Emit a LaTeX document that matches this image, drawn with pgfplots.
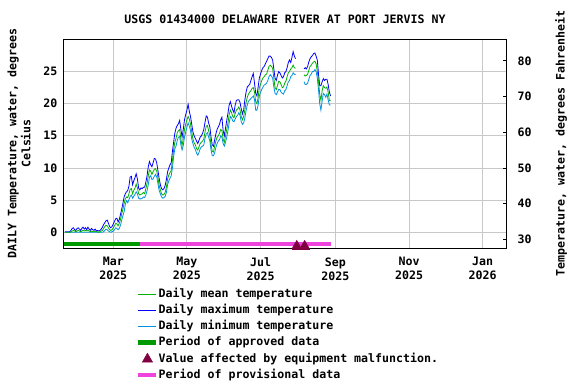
\documentclass[border=0pt]{standalone}
\usepackage{fontspec}
\setmainfont{DejaVu Sans Mono}
\usepackage{pgfplots}
\usepackage{pgfplotstable}
\pgfplotsset{compat=1.18}
\definecolor{cmean}{HTML}{00B000}
\definecolor{cmax}{HTML}{0000FF}
\definecolor{cmin}{HTML}{0090E0}
\definecolor{capp}{HTML}{009900}
\definecolor{cmal}{HTML}{800040}
\definecolor{cprov}{HTML}{EE44DD}
\definecolor{cgrid}{HTML}{C8C8C8}
\pgfplotstableread{
day mean max min
19 0.0 0.1 0.0
20 0.0 0.1 0.0
21 0.0 0.1 0.0
22 0.0 0.1 0.0
23 0.0 0.1 0.0
24 0.1 0.3 0.0
25 0.2 0.6 0.0
26 0.3 0.7 0.0
27 0.2 0.4 0.0
28 0.1 0.3 0.0
29 0.2 0.6 0.0
30 0.3 0.7 0.0
31 0.2 0.5 0.0
32 0.1 0.3 0.0
33 0.2 0.6 0.0
34 0.3 0.8 0.0
35 0.2 0.5 0.0
36 0.3 0.7 0.0
37 0.2 0.4 0.0
38 0.3 0.8 0.0
39 0.2 0.5 0.0
40 0.1 0.3 0.0
41 0.2 0.6 0.0
42 0.1 0.4 0.0
43 0.1 0.3 0.0
44 0.2 0.5 0.0
45 0.1 0.2 0.0
46 0.1 0.3 0.0
47 0.0 0.2 0.0
48 0.1 0.3 0.0
49 0.2 0.5 0.0
50 0.3 0.8 0.0
51 0.6 1.2 0.1
52 0.9 1.5 0.3
53 1.1 1.8 0.5
54 1.0 1.9 0.4
55 0.7 1.4 0.2
56 0.4 0.9 0.1
57 0.3 0.7 0.0
58 0.4 0.9 0.1
59 0.7 1.3 0.2
60 1.0 1.7 0.4
61 1.4 2.1 0.7
62 1.3 2.2 0.6
63 1.0 1.6 0.4
64 1.4 2.0 0.6
65 2.0 2.8 1.1
66 2.9 3.6 1.9
67 3.6 4.5 2.6
68 4.5 5.5 3.2
69 5.2 6.0 4.4
70 5.5 6.3 4.9
71 5.4 6.5 4.6
72 6.0 7.2 5.1
73 6.7 8.6 5.6
74 6.8 8.7 5.8
75 6.0 7.4 5.3
76 6.5 8.0 5.6
77 6.9 8.5 5.9
78 7.5 9.1 6.3
79 6.9 8.3 6.0
80 6.0 6.9 5.3
81 5.8 6.6 5.2
82 5.9 6.9 5.2
83 6.0 6.8 5.3
84 6.2 7.0 5.5
85 6.0 7.0 5.4
86 6.8 7.8 5.8
87 7.6 8.8 6.5
88 8.8 10.2 7.4
89 9.7 11.0 8.6
90 9.5 10.5 8.8
91 9.0 10.2 8.2
92 9.4 10.8 8.3
93 9.8 11.5 8.7
94 9.9 11.4 9.0
95 9.5 10.8 8.6
96 8.5 9.6 7.6
97 7.3 8.4 6.5
98 6.6 7.4 6.0
99 6.0 6.8 5.5
100 5.8 6.6 5.3
101 5.9 6.8 5.4
102 6.2 7.3 5.6
103 7.0 8.2 6.2
104 8.3 9.4 7.4
105 8.9 10.0 8.0
106 9.3 10.5 8.4
107 9.6 10.8 8.8
108 11.2 12.6 10.0
109 12.8 14.0 11.8
110 14.0 15.4 13.0
111 14.6 16.2 13.4
112 15.5 16.6 14.3
113 15.8 16.9 14.8
114 16.0 17.4 14.9
115 14.5 16.0 13.6
116 13.5 14.8 12.8
117 14.6 16.0 13.5
118 16.0 17.5 14.8
119 16.8 18.3 15.6
120 17.5 19.0 16.4
121 18.0 19.9 17.0
122 17.6 18.8 16.5
123 16.8 18.0 15.8
124 15.6 16.8 14.5
125 14.5 15.6 13.8
126 13.9 15.0 13.2
127 13.6 14.6 12.9
128 13.0 14.2 12.3
129 12.8 13.8 12.0
130 13.3 14.3 12.4
131 13.8 14.8 13.0
132 14.0 15.0 13.3
133 14.2 15.4 13.4
134 14.5 16.0 13.6
135 15.6 17.1 14.6
136 16.5 18.1 15.3
137 16.6 17.9 15.5
138 15.8 17.0 14.8
139 15.0 16.4 14.2
140 13.6 14.8 12.8
141 12.6 13.6 11.9
142 12.5 13.4 11.9
143 13.4 14.4 12.4
144 14.2 15.3 13.2
145 14.8 16.0 13.8
146 15.0 16.4 14.2
147 15.4 16.8 14.4
148 16.0 17.5 15.0
149 15.8 17.9 14.8
150 14.5 15.8 13.8
151 14.0 15.0 13.4
152 15.0 16.2 14.0
153 16.0 17.4 14.8
154 17.0 18.5 15.8
155 18.3 19.8 17.0
156 19.0 20.3 18.0
157 18.6 19.6 17.8
158 18.0 19.0 17.3
159 17.8 18.6 17.2
160 18.5 19.8 17.6
161 19.0 20.5 18.0
162 19.2 20.6 18.2
163 19.5 20.6 18.6
164 19.0 20.2 18.2
165 18.0 19.2 17.2
166 17.5 18.4 16.8
167 18.0 19.0 17.0
168 19.0 20.6 17.8
169 20.2 21.8 18.9
170 21.0 22.6 19.8
171 21.5 22.8 20.4
172 21.8 23.0 20.6
173 22.0 23.6 20.8
174 22.4 24.2 21.0
175 22.5 24.7 21.2
176 21.8 23.2 20.6
177 20.3 21.6 19.0
178 20.0 21.2 19.0
179 21.0 22.6 19.8
180 22.5 24.0 21.2
181 23.0 24.6 21.8
182 23.6 25.2 22.2
183 24.0 25.6 22.6
184 24.2 25.8 22.9
185 24.5 26.2 23.0
186 24.6 26.6 23.2
187 25.2 27.0 23.6
188 25.8 27.4 24.2
189 26.0 27.4 24.5
190 25.8 27.2 24.3
191 25.5 26.8 24.0
192 24.0 25.4 22.6
193 22.5 24.0 21.6
194 22.2 23.6 21.4
195 22.8 24.4 21.8
196 23.5 25.0 22.2
197 23.4 24.8 22.2
198 23.0 24.4 21.8
199 22.5 24.0 21.6
200 22.6 24.2 21.5
201 23.2 24.8 22.0
202 23.5 25.0 22.2
203 24.2 25.6 22.8
204 24.8 26.4 23.4
205 25.0 26.8 23.6
206 25.4 26.4 24.2
207 25.6 27.2 24.4
208 26.0 28.1 24.8
209 25.6 27.4 24.6
210 25.5 27.0 24.5
213 nan nan nan
217 24.5 25.4 23.4
218 24.3 25.6 23.0
219 24.4 25.4 23.0
220 24.6 25.8 23.2
221 25.2 26.5 23.8
222 25.8 27.0 24.4
223 26.0 27.3 24.6
224 26.3 27.5 25.0
225 26.5 27.8 25.0
226 26.6 27.9 25.3
227 26.2 27.4 25.0
228 25.0 26.8 24.0
229 23.5 24.6 22.2
230 21.5 22.8 20.0
231 20.5 22.8 19.0
232 22.0 23.4 20.4
233 22.8 23.9 21.6
234 22.5 23.6 21.4
235 22.4 23.8 21.0
236 22.6 23.8 21.5
237 21.8 23.0 20.6
238 20.5 21.8 19.8
239 20.5 21.2 19.8
}\temps
\newcommand{\tf}{\fontsize{11.6}{14}\selectfont\bfseries}
\begin{document}
\begin{tikzpicture}[x=1pt,y=1pt]
\path[use as bounding box] (0,0) rectangle (576,384);
\begin{axis}[
  at={(64pt,136pt)}, anchor=south west,
  scale only axis, width=442pt, height=209pt,
  xmin=18.2, xmax=384.3, ymin=-2.44, ymax=30.06,
  clip=false,
  unbounded coords=jump,
  axis line style={black, line width=1pt},
  major tick length=0pt,
  grid=major, grid style={cgrid, line width=0.9pt},
  xtick={59,120,181,243,304,365},
  xticklabels={Mar\\2025,May\\2025,Jul\\2025,Sep\\2025,Nov\\2025,Jan\\2026},
  xticklabel style={align=center, font=\tf, yshift=-6pt},
  ytick={0,5,10,15,20,25},
  yticklabels={0,5,10,15,20,25},
  yticklabel style={font=\tf, xshift=-3pt},
  ytick pos=left, xtick pos=bottom,
  legend style={at={(axis description cs:0.1629,-0.196)}, anchor=north west,
    draw=none, fill=none, inner sep=0pt, font=\tf, row sep=5pt,
    nodes={inner sep=0pt, text height=8.5pt, text depth=2.5pt},
    /tikz/every even column/.append style={column sep=6pt}},
  legend cell align=left,
  legend image code/.code={\draw[mark repeat=2, mark phase=2, #1] plot coordinates {(0pt,0pt) (9pt,0pt) (18pt,0pt)};},
]
\addlegendimage{cmean, line width=0.8pt}
\addlegendentry{Daily mean temperature}
\addlegendimage{cmax, line width=0.8pt}
\addlegendentry{Daily maximum temperature}
\addlegendimage{cmin, line width=0.8pt}
\addlegendentry{Daily minimum temperature}
\addlegendimage{capp, line width=4.5pt}
\addlegendentry{Period of approved data}
\addlegendimage{only marks, mark=triangle*, mark size=6pt, color=cmal}
\addlegendentry{Value affected by equipment malfunction.}
\addlegendimage{cprov, line width=4.5pt}
\addlegendentry{Period of provisional data}

\addplot[cmax, line width=0.8pt, forget plot] table[x=day, y=max] {\temps};
\addplot[cmin, line width=0.8pt, forget plot] table[x=day, y=min] {\temps};
\addplot[cmean, line width=0.8pt, forget plot] table[x=day, y=mean] {\temps};

\addplot[cmal, line width=1.5pt, forget plot] coordinates {(207,-2.58) (222,-2.58)};
\addplot[only marks, mark=triangle*, mark size=5.5pt, color=cmal, forget plot]
  coordinates {(211,-2.1) (217.5,-2.1)};
\addplot[capp, line width=4.3pt, forget plot] coordinates {(18.2,-1.82) (81,-1.82)};
\addplot[cprov, line width=4.3pt, forget plot] coordinates {(81,-1.82) (239.5,-1.82)};
\end{axis}
\begin{axis}[
  at={(64pt,136pt)}, anchor=south west,
  scale only axis, width=442pt, height=209pt,
  xmin=18.2, xmax=384.3, ymin=27.608, ymax=86.108,
  axis x line=none, axis y line*=right,
  axis line style={black, line width=1pt},
  tick align=inside, major tick length=3pt,
  tick style={black, line width=0.9pt},
  ytick={30,40,50,60,70,80},
  yticklabels={30,40,50,60,70,80},
  yticklabel style={font=\tf, xshift=8pt},
]
\end{axis}
\node[font=\tf] at (285,365) {USGS 01434000 DELAWARE RIVER AT PORT JERVIS NY};
\node[font=\tf, rotate=90, align=center] at (19,240.5) {DAILY Temperature, water, degrees\\Celsius};
\node[font=\tf, rotate=90] at (561,240.5) {Temperature, water, degrees Fahrenheit};
\end{tikzpicture}
\end{document}
